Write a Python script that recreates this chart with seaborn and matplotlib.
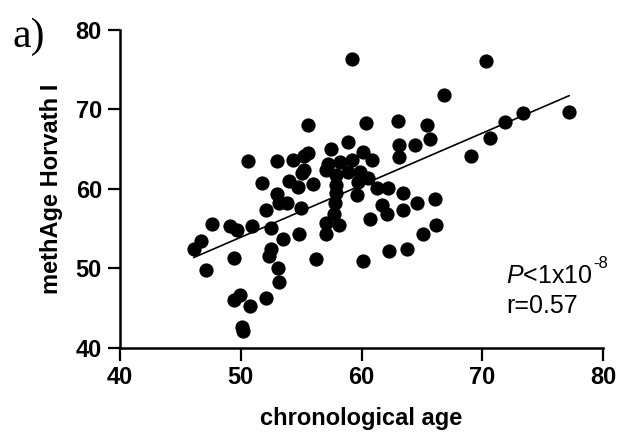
import matplotlib
matplotlib.use("Agg")
import matplotlib.pyplot as plt
import seaborn as sns
import pandas as pd

chron_age = [59.2, 70.3, 66.8, 77.2, 73.4, 71.9, 70.65, 69.1,
             55.6, 60.4, 63.0, 65.4, 65.7, 64.4,
             58.9, 63.1, 63.1, 57.5, 60.1,
             55.6, 55.2, 54.35, 53.0, 50.6,
             55.2, 58.2, 59.2, 60.9, 57.2, 57.1, 57.9, 58.9, 59.9, 60.55, 59.7, 57.9,
             61.25, 62.2, 63.45, 64.6, 66.1, 59.6, 61.7, 62.1, 63.4, 60.7,
             51.8, 54.0, 54.7, 56.0, 55.1,
             53.0, 53.8, 53.2, 52.1, 55.0,
             47.6, 49.1, 49.7, 50.9, 52.5, 53.5, 54.8,
             46.7, 46.1, 52.5, 52.3, 49.4, 47.1, 53.1, 53.2,
             56.2, 60.1, 49.9, 49.4, 50.8, 52.1, 50.1, 50.2,
             57.1, 57.05, 58.1, 57.7, 57.8, 57.9,
             66.2, 65.1, 63.8, 62.3]
meth_age = [76.4, 76.1, 71.8, 69.7, 69.6, 68.4, 66.45, 64.2,
            68.1, 68.3, 68.5, 68.0, 66.25, 65.5,
            65.9, 65.5, 64.0, 65.0, 64.7,
            64.5, 64.1, 63.6, 63.5, 63.5,
            62.4, 63.4, 63.7, 63.6, 63.2, 62.4, 61.8, 62.2, 62.2, 61.35, 60.9, 60.5,
            60.1, 60.1, 59.5, 58.2, 58.7, 59.25, 58.0, 56.8, 57.4, 56.2,
            60.8, 61.0, 60.3, 60.6, 62.05,
            59.4, 58.3, 58.3, 57.3, 57.6,
            55.6, 55.4, 54.9, 55.3, 55.05, 53.7, 54.4,
            53.4, 52.5, 52.5, 51.6, 51.3, 49.8, 50.0, 48.3,
            51.2, 50.9, 46.7, 46.1, 45.3, 46.3, 42.6, 42.1,
            55.7, 54.4, 55.5, 56.9, 58.2, 59.5,
            55.5, 54.4, 52.5, 52.2]

x_ticks = [40, 50, 60, 70, 80]
y_ticks = [40, 50, 60, 70, 80]

df = pd.DataFrame({"chronological age": chron_age, "methAge Horvath I": meth_age})

sns.set_style("ticks")
plt.rcParams['font.family'] = ['Liberation Sans', 'DejaVu Sans']
plt.rcParams['text.color'] = 'black'
plt.rcParams['axes.labelcolor'] = 'black'
plt.rcParams['xtick.color'] = 'black'
plt.rcParams['ytick.color'] = 'black'
plt.rcParams['mathtext.fontset'] = 'custom'
plt.rcParams['mathtext.rm'] = 'Liberation Sans'
plt.rcParams['mathtext.it'] = 'Liberation Sans:italic'

fig = plt.figure(figsize=(6.19, 4.34), dpi=100)
ax = fig.add_axes([120/619, 1-348/434, (603-120)/619, (348-30)/434])

sns.regplot(data=df, x="chronological age", y="methAge Horvath I", ax=ax, ci=None,
            scatter_kws=dict(s=105, color="black", linewidths=0, alpha=1),
            line_kws=dict(color="black", lw=1.2))

ax.set_xlim(40, 80)
ax.set_ylim(40, 80)
ax.set_xticks(x_ticks)
ax.set_yticks(y_ticks)
ax.set_xticklabels([str(t) for t in x_ticks], fontsize=17, fontweight="bold")
ax.set_yticklabels([str(t) for t in y_ticks], fontsize=17, fontweight="bold")
ax.tick_params(axis="both", direction="out", length=9, width=1.6, color="black", pad=4)
for s in ["left", "bottom"]:
    ax.spines[s].set_linewidth(1.8)
    ax.spines[s].set_color("black")
for s in ["top", "right"]:
    ax.spines[s].set_visible(False)

ax.set_xlabel("chronological age", fontsize=17, fontweight="bold", labelpad=13)
ax.set_ylabel("methAge Horvath I", fontsize=17, fontweight="bold", labelpad=9)

t = ax.text(0.80, 0.205, r"$\mathit{P}$<1x10", transform=ax.transAxes, fontsize=18,
            ha="left", va="baseline")
ax.annotate("-8", xy=(1.0, 0.0), xycoords=t, xytext=(0.5, 12), textcoords="offset points",
            fontsize=12, ha="left", va="bottom")
ax.text(0.80, 0.11, "r=0.57", transform=ax.transAxes, fontsize=18, ha="left", va="baseline")

fig.text(12/619, 1-37/434, "a)", family=["Liberation Serif", "DejaVu Serif"], fontsize=30,
         ha="left", va="center")

fig.savefig("out.png", dpi=100)
